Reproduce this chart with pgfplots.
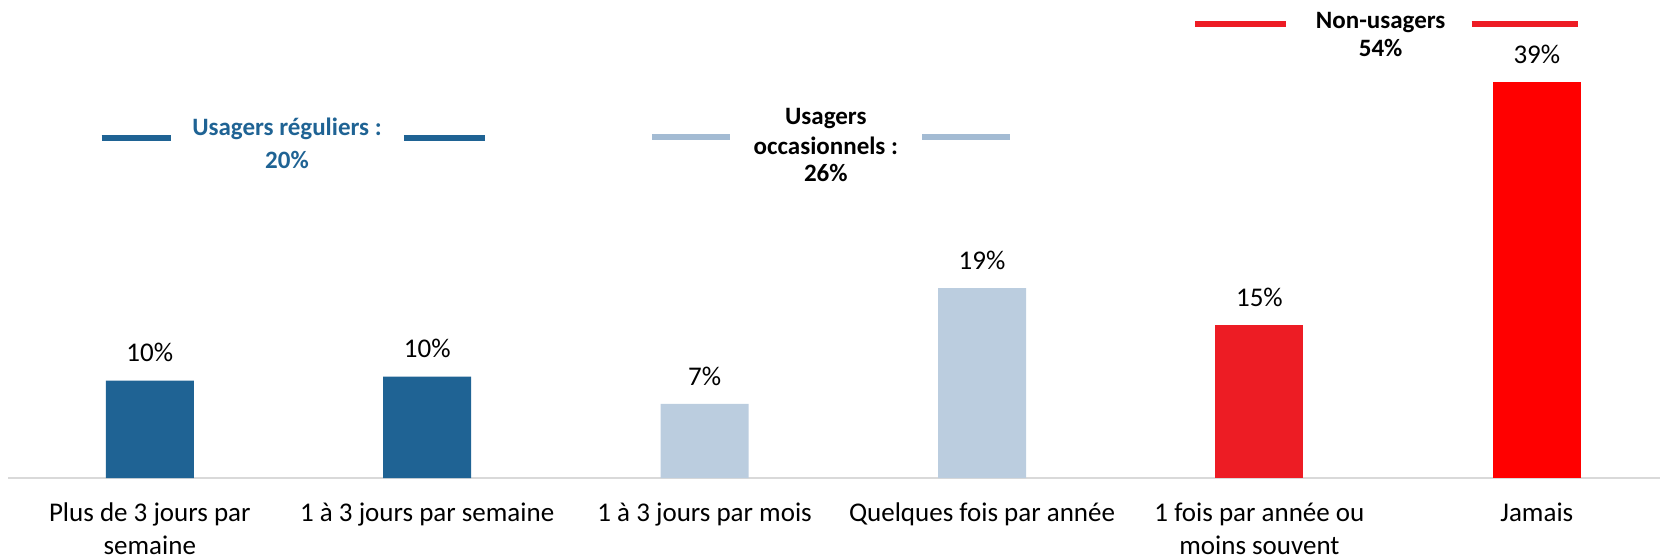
\documentclass[border=0pt]{standalone}
\usepackage{fontspec}
\setmainfont{Carlito}
\usepackage{pgfplots}
\pgfplotsset{compat=1.18}
\definecolor{dblue}{RGB}{31,99,148}
\definecolor{lblue}{RGB}{187,205,223}
\definecolor{lline}{RGB}{163,187,211}
\definecolor{redA}{RGB}{237,28,36}
\definecolor{redB}{RGB}{255,0,0}
\definecolor{axgray}{RGB}{217,217,217}
\begin{document}
\begin{tikzpicture}
\begin{axis}[
 scale only axis, width=825.75pt, height=239pt,
 xmin=-0.51, xmax=5.444, ymin=0, ymax=47.09,
 axis x line=bottom, axis y line=none,
 x axis line style={-, draw=axgray, line width=1pt},
 ytick=\empty,
 xtick={0,1,2,3,4,5}, xtick style={draw=none},
 xticklabels={{Plus de 3 jours par\\semaine},{1 à 3 jours par semaine},{1 à 3 jours par mois},{Quelques fois par année},{1 fois par année ou\\moins souvent},{Jamais}},
 xticklabel style={align=center, font=\fontsize{13.5}{16.2}\selectfont, inner sep=0pt, yshift=-8.1pt},
 clip=false,
 ybar, bar width=44pt,
 nodes near coords, point meta=explicit symbolic,
 every node near coord/.append style={anchor=south, inner sep=0pt, yshift=9pt, font=\fontsize{13.5}{16.5}\selectfont, text=black},
]
\addplot[fill=dblue, draw=none, bar shift=0pt] coordinates {(0,9.6) [10\%] (1,10.0) [10\%]};
\addplot[fill=lblue, draw=none, bar shift=0pt] coordinates {(2,7.3) [7\%] (3,18.7) [19\%]};
\addplot[fill=redA, draw=none, bar shift=0pt] coordinates {(4,15.1) [15\%]};
\addplot[fill=redB, draw=none, bar shift=0pt] coordinates {(5,39.0) [39\%]};

\draw[dblue, line width=3pt] (axis cs:-0.174,33.54) -- (axis cs:0.078,33.54);
\draw[dblue, line width=3pt] (axis cs:0.916,33.54) -- (axis cs:1.208,33.54);
\draw[lline, line width=3pt] (axis cs:1.810,33.60) -- (axis cs:2.093,33.60);
\draw[lline, line width=3pt] (axis cs:2.784,33.60) -- (axis cs:3.101,33.60);
\draw[redA, line width=3pt] (axis cs:3.768,44.69) -- (axis cs:4.096,44.69);
\draw[redA, line width=3pt] (axis cs:4.765,44.69) -- (axis cs:5.147,44.69);

\node[font=\bfseries\fontsize{12.5}{15}\selectfont, text=dblue] at (axis cs:0.4946,34.38) {Usagers réguliers :};
\node[font=\bfseries\fontsize{12.5}{15}\selectfont, text=dblue] at (axis cs:0.4946,31.33) {20\%};
\node[font=\bfseries\fontsize{12.5}{15}\selectfont] at (axis cs:2.437,35.41) {Usagers};
\node[font=\bfseries\fontsize{12.5}{15}\selectfont] at (axis cs:2.437,32.71) {occasionnels :};
\node[font=\bfseries\fontsize{12.5}{15}\selectfont] at (axis cs:2.437,30.09) {26\%};
\node[font=\bfseries\fontsize{12.5}{15}\selectfont] at (axis cs:4.437,44.92) {Non-usagers};
\node[font=\bfseries\fontsize{12.5}{15}\selectfont] at (axis cs:4.437,42.40) {54\%};

\coordinate (BL) at (axis cs:-0.540,-7.586);
\coordinate (TR) at (axis cs:5.444,47.09);
\end{axis}
\pgfresetboundingbox
\path[use as bounding box] (BL) rectangle (TR);
\end{tikzpicture}
\end{document}
